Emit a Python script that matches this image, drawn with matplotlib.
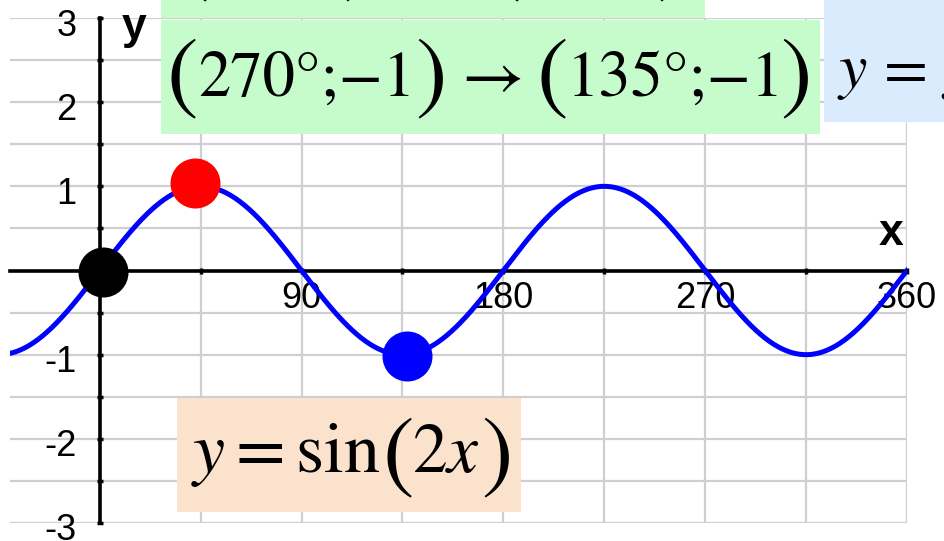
import numpy as np
import matplotlib
matplotlib.use("Agg")
import matplotlib.pyplot as plt
from matplotlib.patches import Rectangle
from matplotlib.transforms import ScaledTranslation

plt.rcParams["mathtext.fontset"] = "stix"
plt.rcParams["font.family"] = ["Liberation Sans", "DejaVu Sans"]

# plotted curve: y = sin(2x), x in degrees, as labelled on the chart
X_RANGE = (-40, 360)
Y_RANGE = (-3, 3)
FREQ = 2

# marked points as drawn (x in degrees, y)
POINT_X = [1.5, 42.5, 137]
POINT_Y = [-0.02, 1.04, -1.02]
POINT_COLORS = ["black", "red", "blue"]

X_TICKS = [90, 180, 270, 360]
Y_TICKS = [-3, -2, -1, 1, 2, 3]

# formula boxes: upper (cut) line, main line
UPPER_PAIR = ["90°;1", "45°;1"]
MAIN_PAIR = ["270°;−1", "135°;−1"]

W, H = 944, 541
SERIF = "STIXGeneral"


def fx(x):
    return x / W


def fy(y):
    return 1 - y / H


fig = plt.figure(figsize=(W / 100, H / 100), dpi=100)
ax = fig.add_axes([fx(10), fy(523), (907 - 10) / W, (523 - 18) / H])

xs = np.linspace(X_RANGE[0], X_RANGE[1], 800)
ax.plot(xs, np.sin(np.radians(FREQ * xs)), color="#0000ff", lw=3.6, zorder=4)
for px_, py_, c in zip(POINT_X, POINT_Y, POINT_COLORS):
    ax.plot(px_, py_, "o", color=c, ms=35, zorder=5, clip_on=False)

for s in ("top", "right"):
    ax.spines[s].set_visible(False)
ax.spines["left"].set_position(("data", 0))
ax.spines["bottom"].set_position(("data", 0))
ax.spines["left"].set_linewidth(2.6)
ax.spines["bottom"].set_linewidth(2.6)

ax.set_xticks(X_TICKS)
ax.set_xticks(np.arange(0, 361, 45), minor=True)
ax.set_yticks(Y_TICKS)
ax.set_yticks(np.arange(-3, 3.01, 0.5), minor=True)
ax.set_xticklabels([str(v) for v in X_TICKS])
ax.set_yticklabels([str(v) for v in Y_TICKS])
ax.set_xlim(X_RANGE)
ax.set_ylim(Y_RANGE)
ax.tick_params(which="both", direction="inout", length=5, width=2.5, color="black")
ax.tick_params(axis="x", labelsize=26, pad=5)
ax.tick_params(axis="y", labelsize=26, pad=14)
down = ScaledTranslation(0, -4 / 100, fig.dpi_scale_trans)
for lab in ax.get_yticklabels():
    lab.set_transform(lab.get_transform() + down)
ax.grid(True, which="both", color="#cfcfcf", lw=1.6, zorder=0)
ax.set_axisbelow(True)

fig.text(fx(134), fy(28), "y", fontsize=32, fontweight="bold", ha="center", va="center")
fig.text(fx(891), fy(234), "x", fontsize=32, fontweight="bold", ha="center", va="center")

# coloured boxes with formulas
boxes = [
    ((161, -5, 705, 18), "#c6fccc"),
    ((161, 20, 820, 134), "#c6fccc"),
    ((824, -5, 949, 122), "#d9ebfc"),
    ((177, 398, 521, 512), "#fae2cc"),
]
for (x0, y0, x1, y1), col in boxes:
    fig.patches.append(Rectangle((fx(x0), fy(y1)), (x1 - x0) / W, (y1 - y0) / H,
                                 transform=fig.transFigure, facecolor=col,
                                 edgecolor="none", zorder=6))


def pair_line(texts, parens_x, arrow_x, text_x, base, paren_base):
    for px_ in parens_x[0::2]:
        fig.text(fx(px_), fy(paren_base), "(", family=SERIF, fontsize=68,
                 ha="center", va="baseline", zorder=7)
    for px_ in parens_x[1::2]:
        fig.text(fx(px_), fy(paren_base), ")", family=SERIF, fontsize=68,
                 ha="center", va="baseline", zorder=7)
    for t, tx in zip(texts, text_x):
        fig.text(fx(tx), fy(base), t, family=SERIF, fontsize=46.5,
                 ha="left", va="baseline", zorder=7)
    fig.text(fx(arrow_x), fy(base), "→", family=SERIF, fontsize=49,
             ha="center", va="baseline", zorder=7)


pair_line(UPPER_PAIR, [193, 359, 505, 673], 432, [203, 516], -21, -16)
pair_line(MAIN_PAIR, [182, 431, 552, 796], 493, [198, 567], 96, 101)

fig.text(fx(837), fy(87), r"$y$", fontsize=46, ha="left", va="baseline", zorder=7)
fig.text(fx(900), fy(87), r"$=$", fontsize=46, ha="center", va="baseline", zorder=7)
fig.text(fx(941), fy(87), r"$f\,(x)$", fontsize=46, ha="left", va="baseline", zorder=7)

fig.text(fx(191), fy(472), r"$y = \sin$", fontsize=52, ha="left", va="baseline", zorder=7)
fig.text(fx(398), fy(480), "(", family=SERIF, fontsize=68, ha="center", va="baseline", zorder=7)
fig.text(fx(412), fy(472), r"$2x$", fontsize=50, ha="left", va="baseline", zorder=7)
fig.text(fx(497), fy(480), ")", family=SERIF, fontsize=68, ha="center", va="baseline", zorder=7)

fig.savefig("out.png", dpi=100)
